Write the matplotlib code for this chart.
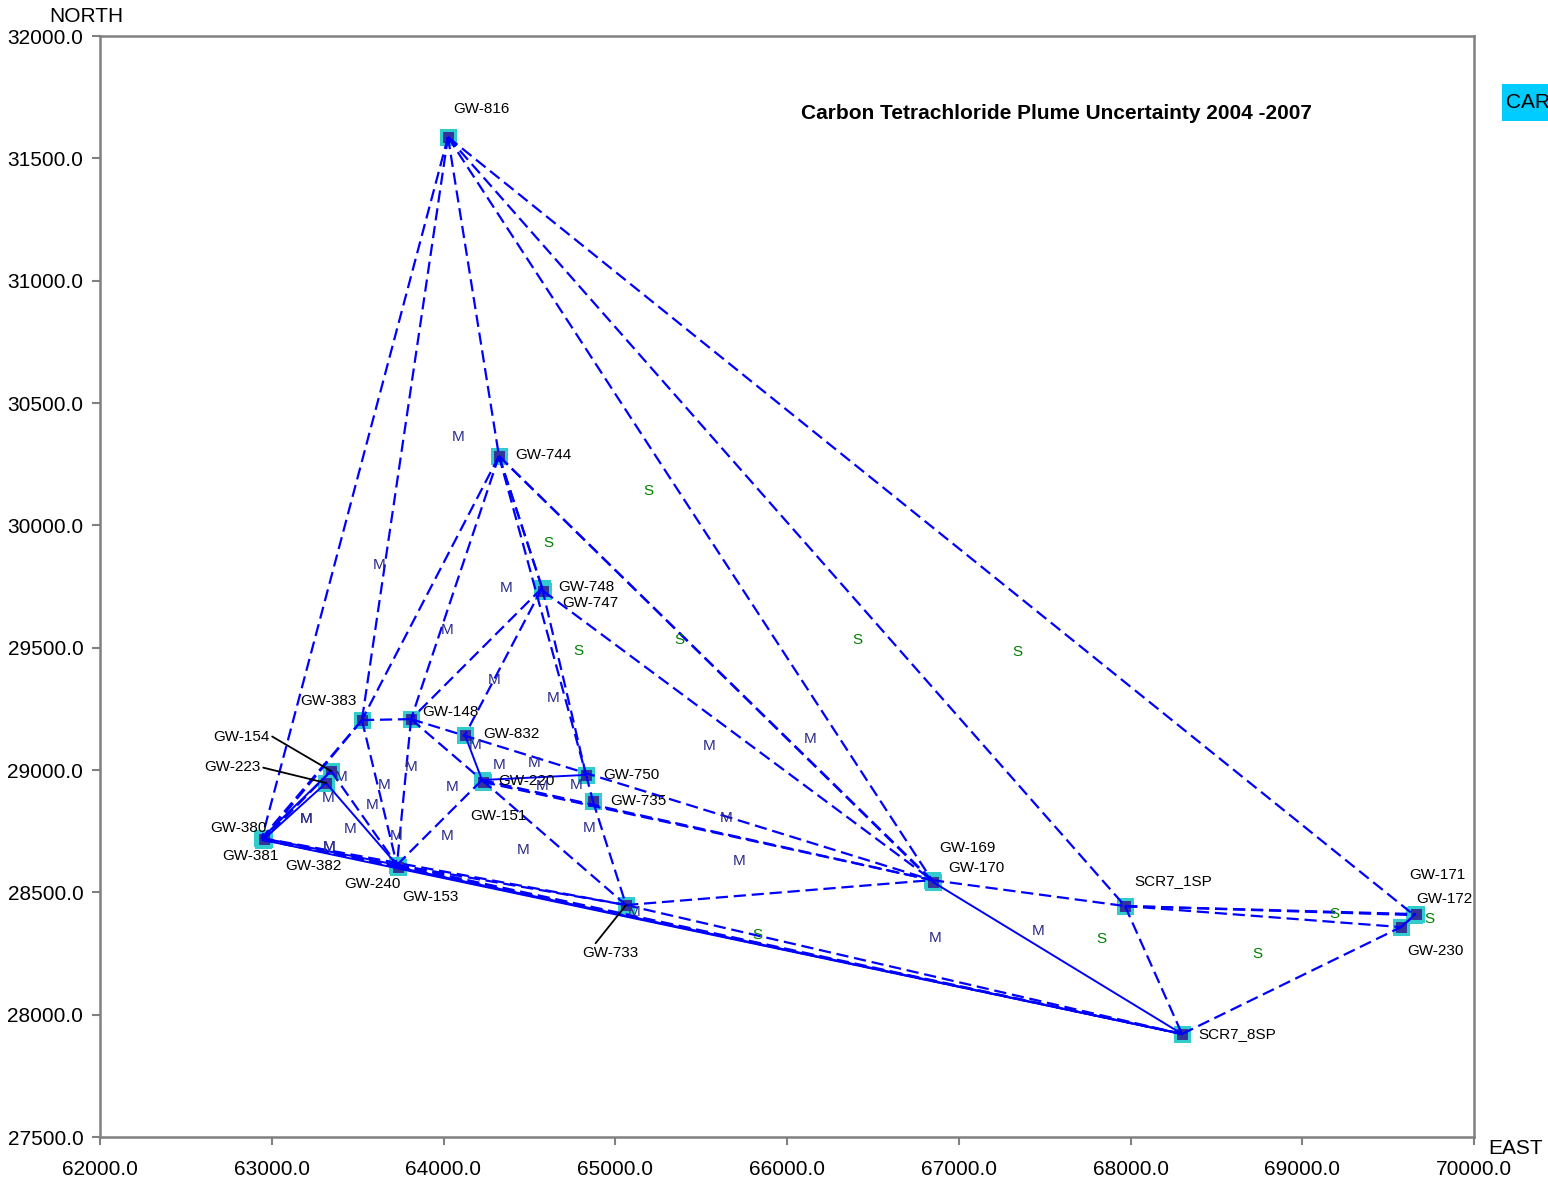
import matplotlib
matplotlib.use('Agg')
import matplotlib.pyplot as plt
from matplotlib.patches import Rectangle

plt.rcParams['font.family'] = ['Liberation Sans', 'DejaVu Sans']

# well locations (east, north)
well_names = ['GW-816', 'GW-744', 'GW-748', 'GW-747', 'GW-383', 'GW-148', 'GW-832',
              'GW-154', 'GW-223', 'GW-220', 'GW-151', 'GW-750', 'GW-735',
              'GW-380', 'GW-381', 'GW-382', 'GW-240', 'GW-153', 'GW-733',
              'GW-169', 'GW-170', 'SCR7_1SP', 'SCR7_8SP', 'GW-171', 'GW-172', 'GW-230']
well_east = [64026, 64323, 64574, 64580, 63525, 63811, 64125,
             63345, 63316, 64224, 64230, 64830, 64870,
             62943, 62949, 62955, 63729, 63735, 65063,
             66844, 66850, 67968, 68300, 69651, 69662, 69575]
well_north = [31587, 30283, 29744, 29732, 29204, 29208, 29143,
              28996, 28947, 28959, 28951, 28980, 28873,
              28722, 28714, 28718, 28612, 28604, 28448,
              28550, 28542, 28444, 27921, 28407, 28411, 28358]

# triangulation links
dashed_links = [
    ('GW-816', 'GW-380'), ('GW-816', 'GW-383'), ('GW-816', 'GW-744'), ('GW-816', 'GW-169'),
    ('GW-816', 'SCR7_1SP'), ('GW-816', 'GW-171'),
    ('GW-744', 'GW-383'), ('GW-744', 'GW-148'), ('GW-744', 'GW-747'), ('GW-744', 'GW-748'),
    ('GW-744', 'GW-750'), ('GW-744', 'GW-169'), ('GW-744', 'GW-170'),
    ('GW-747', 'GW-169'), ('GW-748', 'GW-148'), ('GW-748', 'GW-832'), ('GW-748', 'GW-750'),
    ('GW-383', 'GW-148'), ('GW-383', 'GW-380'), ('GW-383', 'GW-381'), ('GW-383', 'GW-240'),
    ('GW-154', 'GW-382'), ('GW-154', 'GW-240'),
    ('GW-381', 'GW-153'), ('GW-380', 'GW-733'), ('GW-382', 'SCR7_8SP'), ('GW-240', 'GW-733'),
    ('GW-240', 'SCR7_8SP'), ('GW-153', 'SCR7_8SP'),
    ('GW-148', 'GW-240'), ('GW-148', 'GW-169'), ('GW-148', 'GW-220'),
    ('GW-220', 'GW-240'), ('GW-220', 'GW-169'), ('GW-151', 'GW-169'), ('GW-220', 'GW-733'),
    ('GW-750', 'GW-735'), ('GW-735', 'GW-733'),
    ('GW-733', 'GW-169'), ('GW-733', 'SCR7_8SP'),
    ('GW-169', 'SCR7_1SP'), ('SCR7_1SP', 'SCR7_8SP'), ('SCR7_1SP', 'GW-171'),
    ('SCR7_1SP', 'GW-172'), ('SCR7_1SP', 'GW-230'),
    ('SCR7_8SP', 'GW-230'), ('GW-230', 'GW-172'),
]
solid_links = [
    ('GW-154', 'GW-380'), ('GW-223', 'GW-381'), ('GW-223', 'GW-240'), ('GW-380', 'GW-240'),
    ('GW-381', 'SCR7_8SP'), ('GW-832', 'GW-220'), ('GW-220', 'GW-750'),
    ('GW-170', 'SCR7_8SP'), ('GW-230', 'GW-171'),
]

# uncertainty class labels
m_east = [64084, 63624, 64364, 64020, 64294, 64638, 65546, 66134, 64183, 63811,
          63403, 63654, 63328, 63199, 63199, 64323, 64527, 64050, 64574, 64771,
          63584, 63456, 63723, 64020, 63333, 63333, 64463, 64847, 65645, 65721,
          66862, 67461, 65109]
m_north = [30361, 29838, 29744, 29572, 29368, 29294, 29098, 29127, 29102, 29012,
           28971, 28939, 28886, 28800, 28800, 29020, 29029, 28930, 28935, 28939,
           28857, 28759, 28730, 28730, 28685, 28685, 28673, 28763, 28804, 28628,
           28313, 28342, 28420]
s_east = [65191, 64608, 65371, 64783, 66408, 67339, 65825, 67828, 68737, 69185, 69738]
s_north = [30140, 29928, 29531, 29486, 29531, 29482, 28326, 28309, 28248, 28411, 28391]

xticks = [62000, 63000, 64000, 65000, 66000, 67000, 68000, 69000, 70000]
yticks = [27500, 28000, 28500, 29000, 29500, 30000, 30500, 31000, 31500, 32000]

# label offsets in pixels (dx, dy)
label_offsets = {
    'GW-816': (5, 28), 'GW-744': (16, 1), 'GW-748': (16, 1), 'GW-747': (19, -12),
    'GW-383': (-62, 19), 'GW-148': (11, 7), 'GW-832': (18, 1),
    'GW-154': (-118, 34), 'GW-223': (-122, 16), 'GW-220': (16, -1), 'GW-151': (-13, -34),
    'GW-750': (17, 0), 'GW-735': (17, 0), 'GW-380': (-52, 10), 'GW-381': (-41, -16),
    'GW-382': (21, -27), 'GW-240': (-53, -19), 'GW-153': (4, -30), 'GW-733': (-44, -48),
    'GW-169': (7, 32), 'GW-170': (15, 14), 'SCR7_1SP': (9, 25), 'SCR7_8SP': (16, 0),
    'GW-171': (-5, 40), 'GW-172': (0, 15), 'GW-230': (6, -24),
}
leader_rel = {'GW-154': (1.0, 0.65), 'GW-223': (1.0, 0.5), 'GW-733': (0.2, 1.0)}

pos = {n: (e, y) for n, e, y in zip(well_names, well_east, well_north)}

fig = plt.figure(figsize=(15.48, 11.83), dpi=100)
ax = fig.add_axes([100/1548, 46/1183, 1374/1548, 1101/1183])

for a, b in dashed_links:
    ax.plot([pos[a][0], pos[b][0]], [pos[a][1], pos[b][1]], color='#0000FF',
            lw=1.6, dashes=(5.5, 2.6), zorder=3)
for a, b in solid_links:
    ax.plot([pos[a][0], pos[b][0]], [pos[a][1], pos[b][1]], color='#0000FF',
            lw=1.4, zorder=3)

ax.plot(well_east, well_north, 's', ms=9.4, mfc='#333399', mec='#33CCCC', mew=2.2,
        ls='none', zorder=2)

for n in well_names:
    dx, dy = label_offsets[n]
    if n in leader_rel:
        ax.annotate(n, xy=pos[n], xytext=(dx, dy), textcoords='offset pixels',
                    ha='left', va='center', fontsize=11, zorder=4,
                    arrowprops=dict(arrowstyle='-', color='black', lw=1.3,
                                    shrinkA=0, shrinkB=0, relpos=leader_rel[n]))
    else:
        ax.annotate(n, xy=pos[n], xytext=(dx, dy), textcoords='offset pixels',
                    ha='left', va='center', fontsize=11, zorder=4)

for e, y in zip(m_east, m_north):
    ax.text(e, y, 'M', color='#2B2B8C', fontsize=11, ha='center', va='center', zorder=4)
for e, y in zip(s_east, s_north):
    ax.text(e, y, 'S', color='#008000', fontsize=11, ha='center', va='center', zorder=4)

ax.text(0.696, 0.930, 'Carbon Tetrachloride Plume Uncertainty 2004 -2007',
        transform=ax.transAxes, fontsize=15, fontweight='bold', ha='center', va='center')

ax.set_xlim(62000, 70000)
ax.set_ylim(27500, 32000)
ax.set_xticks(xticks)
ax.set_yticks(yticks)
ax.set_xticklabels(['%.1f' % v for v in xticks])
ax.set_yticklabels(['%.1f' % v for v in yticks])
ax.tick_params(direction='out', length=6, width=1.5, color='#808080', labelsize=15)
ax.tick_params(axis='x', pad=10.5)
ax.tick_params(axis='y', pad=6)
for s in ax.spines.values():
    s.set_color('#808080')
    s.set_linewidth(1.8)

fig.text(86/1548, 1 - 16/1183, 'NORTH', fontsize=15, ha='center', va='center')
fig.text(1516/1548, 1 - 1148/1183, 'EAST', fontsize=15, ha='center', va='center')
fig.add_artist(Rectangle((1502/1548, 1 - 121/1183), 0.04, 37/1183,
                         transform=fig.transFigure, facecolor='#00CCFF', edgecolor='none'))
fig.text(1506/1548, 1 - 102/1183, 'CAR', fontsize=15, ha='left', va='center')

fig.savefig('out.png', dpi=100)
